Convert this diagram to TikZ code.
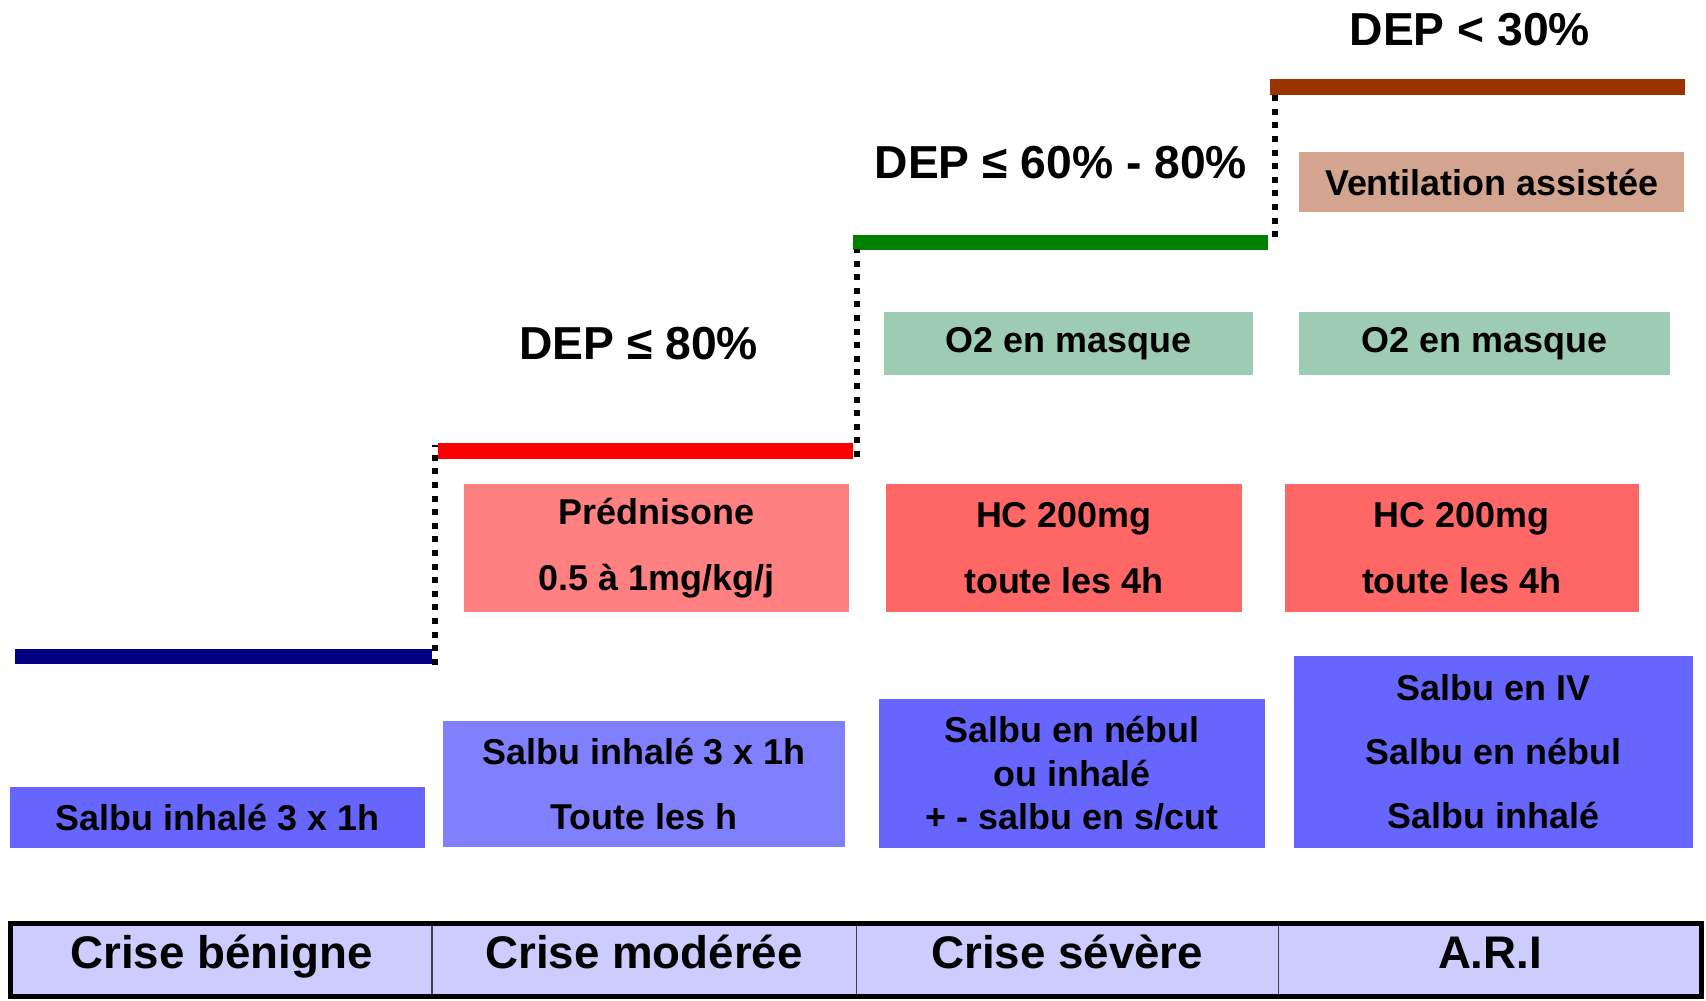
\documentclass[tikz,border=0pt]{standalone}
\usepackage{fontspec}
\setmainfont{Liberation Sans}
\definecolor{navyline}{HTML}{000080}
\definecolor{redline}{HTML}{FF0000}
\definecolor{greenline}{HTML}{008000}
\definecolor{brownline}{HTML}{993300}
\definecolor{pinkbox}{HTML}{FF8080}
\definecolor{redbox}{HTML}{FF6666}
\definecolor{bluebox}{HTML}{6666FF}
\definecolor{lightblue}{HTML}{8080FF}
\definecolor{greenbox}{HTML}{9DCBB4}
\definecolor{tanbox}{HTML}{D3A590}
\definecolor{tablefill}{HTML}{CCCCFF}
\begin{document}
\begin{tikzpicture}[x=1pt,y=-1pt,
  stepline/.style={line width=14pt, line cap=butt},
  riser/.style={line width=5.5pt, black, dash pattern=on 5.5pt off 7pt},
  box/.style={inner sep=0pt, align=center, text=black,
    font=\fontsize{33}{60}\selectfont\bfseries},
  deplabel/.style={inner sep=0pt, anchor=base, text=black,
    font=\fontsize{42.5}{50}\selectfont\bfseries},
  celltext/.style={inner sep=0pt, anchor=base, text=black,
    font=\fontsize{42}{50}\selectfont\bfseries}]
\useasboundingbox (0,0) rectangle (1568,920);

% steps
\coordinate (s1a) at (14,603.5);  \coordinate (s1b) at (397,603.5);
\coordinate (s2a) at (403,414.5); \coordinate (s2b) at (784,414.5);
\coordinate (s3a) at (784,223);   \coordinate (s3b) at (1165,223);
\coordinate (s4a) at (1167,80);   \coordinate (s4b) at (1549,80);
\draw[stepline, navyline] (s1a) -- (s1b);
\draw[stepline, redline] (s2a) -- (s2b);
\draw[stepline, greenline] (s3a) -- (s3b);
\draw[stepline, brownline] (s4a) -- (s4b);

% risers
\coordinate (r1b) at (400,611); \coordinate (r1t) at (400,409);
\coordinate (r2b) at (787.5,420); \coordinate (r2t) at (787.5,229);
\coordinate (r3b) at (1171.5,218); \coordinate (r3t) at (1171.5,86);
\draw[riser] (r1b) -- (r1t);
\draw[riser] (r2b) -- (r2t);
\draw[riser] (r3b) -- (r3t);

% DEP labels
\node[deplabel] (d1) at (587,330) {DEP ≤ 80\%};
\node[deplabel] (d2) at (975,164) {DEP ≤ 60\% - 80\%};
\node[deplabel] (d3) at (1351,41.5) {DEP < 30\%};

% top boxes
\node[box, fill=tanbox, minimum width=354pt, minimum height=55.5pt] (vent) at (1371,167.3) {Ventilation assistée};
\node[box, fill=greenbox, minimum width=339pt, minimum height=57.7pt] (o2a) at (982,315.9) {O2 en masque};
\node[box, fill=greenbox, minimum width=341pt, minimum height=57.7pt] (o2b) at (1364.5,315.9) {O2 en masque};

% corticoid boxes
\node[box, fill=pinkbox, minimum width=354pt, minimum height=117.6pt] (pred) at (603.5,503.8) {Prédnisone\\0.5 à 1mg/kg/j};
\node[box, fill=redbox, minimum width=327.6pt, minimum height=117.6pt] (hc1) at (977.8,503.8) {HC 200mg\\toute les 4h};
\node[box, fill=redbox, minimum width=325pt, minimum height=117.6pt] (hc2) at (1343.5,503.8) {HC 200mg\\toute les 4h};

% salbutamol boxes
\node[box, fill=bluebox, minimum width=382pt, minimum height=56pt] (b1) at (200,751) {Salbu inhalé 3 x 1h};
\node[box, fill=lightblue, minimum width=370pt, minimum height=115.6pt] (b2) at (592,720.8) {Salbu inhalé 3 x 1h\\Toute les h};
\node[box, fill=bluebox, minimum width=354.7pt, minimum height=136.5pt,
  font=\fontsize{33}{40}\selectfont\bfseries] (b3) at (985.4,710.8) {Salbu en nébul\\ou inhalé\\+ - salbu en s/cut};
\node[box, fill=bluebox, minimum width=367pt, minimum height=176pt,
  font=\fontsize{33}{59}\selectfont\bfseries] (b4) at (1372.5,691) {Salbu en IV\\Salbu en nébul\\Salbu inhalé};

% bottom table
\fill[tablefill] (10,849) rectangle (1564,916);
\draw[line width=1.3pt, black!75] (397,849) -- (397,916);
\draw[line width=1.3pt, black!75] (787,849) -- (787,916);
\draw[line width=1.3pt, black!75] (1175,849) -- (1175,916);
\draw[line width=4.5pt, black] (10,849) rectangle (1564,916);
\node[celltext] (c1) at (203.5,890) {Crise bénigne};
\node[celltext] (c2) at (592,890) {Crise modérée};
\node[celltext] (c3) at (981,890) {Crise sévère};
\node[celltext] (c4) at (1369.5,890) {A.R.I};
\end{tikzpicture}
\end{document}
